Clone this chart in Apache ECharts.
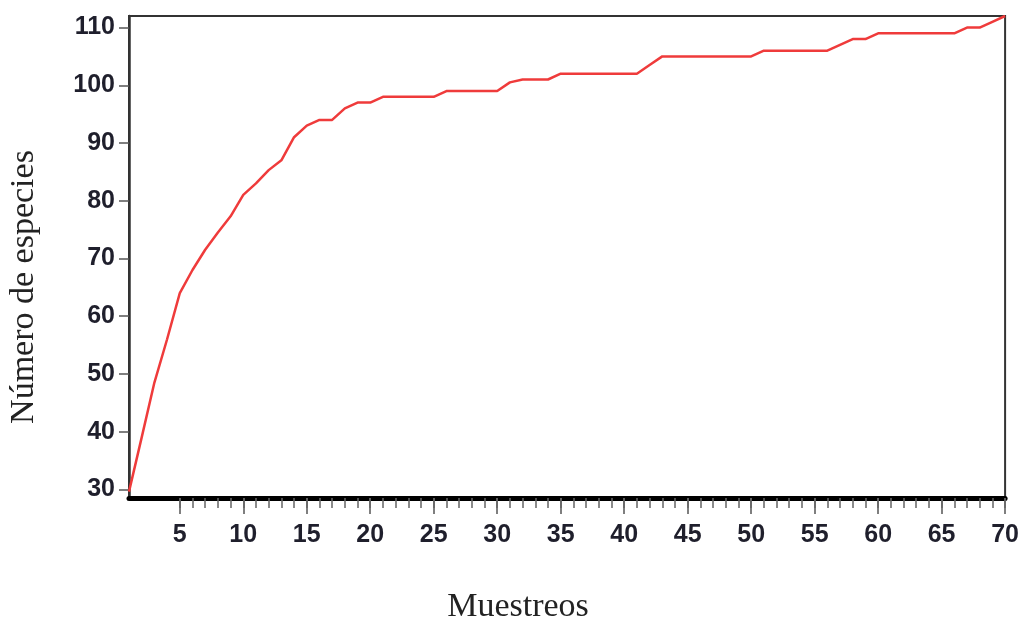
<!DOCTYPE html>
<html>
<head>
<meta charset="utf-8">
<script src="https://cdn.jsdelivr.net/npm/echarts@6/dist/echarts.min.js"></script>
<style>
html,body{margin:0;padding:0;background:#fff;}
#chart{width:1022px;height:619px;}
</style>
</head>
<body>
<div id="chart"></div>
<script>
// Sample number (Muestreos)
const samples = [];
for (let i = 1; i <= 70; i++) samples.push(i);
// Accumulated species count (Número de especies)
const species = [
  29.6, 39, 48.5, 56, 64, 68, 71.5, 74.5, 77.3, 81,
  83, 85.3, 87, 91, 93, 94, 94, 96, 97, 97,
  98, 98, 98, 98, 98, 99, 99, 99, 99, 99,
  100.5, 101, 101, 101, 102, 102, 102, 102, 102, 102,
  102, 103.5, 105, 105, 105, 105, 105, 105, 105, 105,
  106, 106, 106, 106, 106, 106, 107, 108, 108, 109,
  109, 109, 109, 109, 109, 109, 110, 110, 111, 112
];
const yTickLabels = [30, 40, 50, 60, 70, 80, 90, 100, 110];
const xTickLabels = [5, 10, 15, 20, 25, 30, 35, 40, 45, 50, 55, 60, 65, 70];
const xMinorTicks = [];
for (let i = 5; i <= 70; i++) xMinorTicks.push(i);

const xTitle = 'Muestreos';
const yTitle = 'Número de especies';

const chart = echarts.init(document.getElementById('chart'), null, {renderer: 'canvas'});
const labelFont = {fontFamily: 'Liberation Sans', fontWeight: 'bold', fontSize: 25, color: '#1f1f2c'};

chart.setOption({
  animation: false,
  backgroundColor: '#ffffff',
  grid: {left: 129, right: 16, top: 16, bottom: 121, show: true, borderColor: '#333', borderWidth: 2, backgroundColor: 'transparent'},
  xAxis: [{
    type: 'value', min: 1, max: 70,
    axisLine: {show: true, lineStyle: {color: '#000', width: 5}},
    axisTick: {show: true, customValues: xTickLabels, length: 16, lineStyle: {color: '#555', width: 1.5}},
    axisLabel: Object.assign({customValues: xTickLabels, margin: 25}, labelFont),
    splitLine: {show: false}
  }, {
    type: 'value', min: 1, max: 70, position: 'bottom',
    axisLine: {show: false},
    axisTick: {show: true, customValues: xMinorTicks, length: 10, lineStyle: {color: '#666', width: 1.5}},
    axisLabel: {show: false},
    splitLine: {show: false}
  }],
  yAxis: {
    type: 'value', min: 28.5, max: 112,
    axisLine: {show: true, lineStyle: {color: '#333', width: 2.5}},
    axisTick: {show: true, customValues: yTickLabels, length: 10, lineStyle: {color: '#555', width: 1.5}},
    axisLabel: Object.assign({customValues: yTickLabels, margin: 14}, labelFont),
    splitLine: {show: false}
  },
  graphic: [
    {type: 'text', x: 518, y: 607, style: {text: xTitle, font: '34px "Liberation Serif"', fill: '#222', textAlign: 'center', textVerticalAlign: 'middle'}},
    {type: 'text', x: 24, y: 287, rotation: Math.PI / 2, style: {text: yTitle, font: '34px "Liberation Serif"', fill: '#222', textAlign: 'center', textVerticalAlign: 'middle'}}
  ],
  series: [{
    type: 'line',
    xAxisIndex: 0,
    data: samples.map((x, i) => [x, species[i]]),
    showSymbol: false,
    lineStyle: {color: '#ef3b3b', width: 2.5},
    z: 3
  }]
});
</script>
</body>
</html>
